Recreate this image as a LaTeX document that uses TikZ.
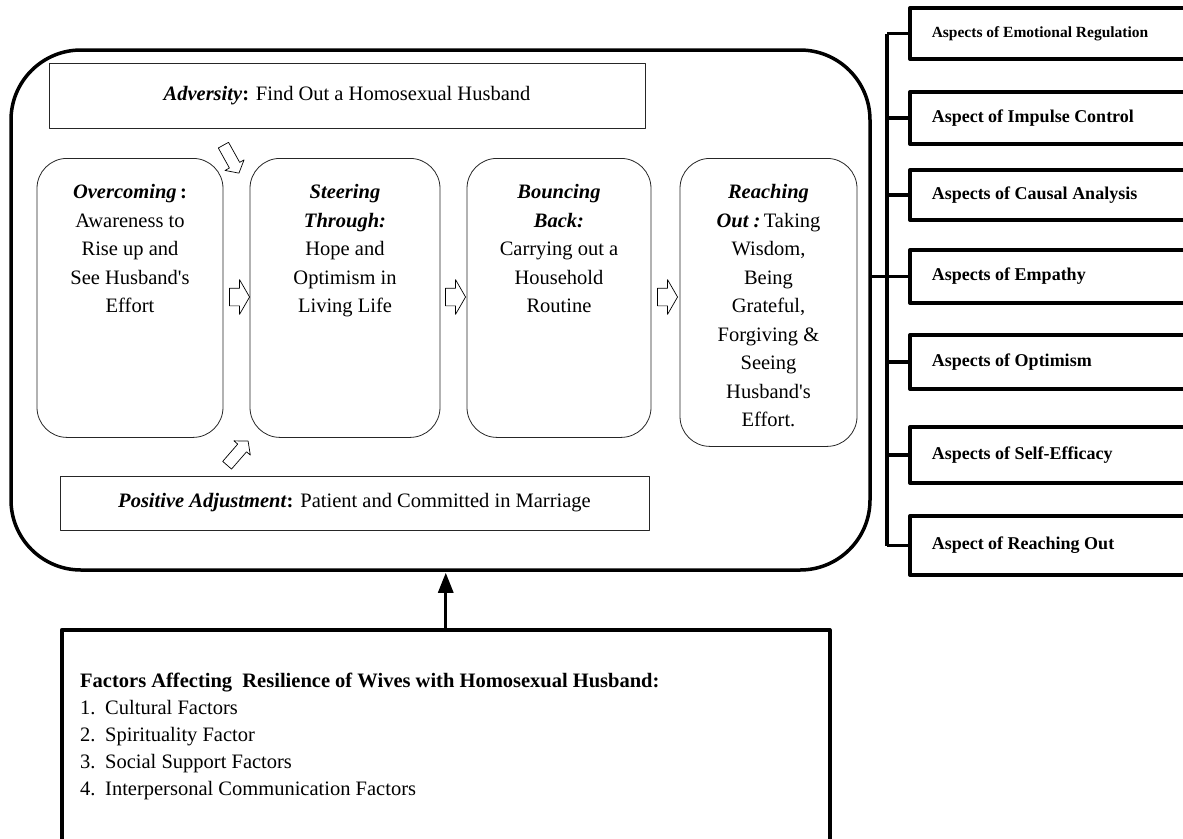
\documentclass[tikz,border=0pt]{standalone}
\usepackage{fontspec}
\setmainfont{Liberation Serif}
\usetikzlibrary{shapes.arrows,arrows.meta}
\newcommand{\stagetext}[2]{\parbox[t][#1][t]{172pt}{\centering\vspace*{26pt}#2}}
\newcommand{\bfit}[1]{\textbf{\textit{#1}}}
\newcommand{\apos}{\textquotesingle}
\begin{document}
\begin{tikzpicture}[x=1pt, y=-1pt, line join = round, font=\fontsize{20.5}{28.5}\selectfont]
	\tikzset{stagebox/.style={draw=black!85, line width=0.8pt, rounded corners=30pt, inner sep=0pt, anchor=north},
		plainbox/.style={draw=black!85, line width=0.8pt, inner sep=0pt},
		aspectbox/.style={draw, line width=3.5pt, anchor=west, minimum width=290pt, text width=246pt, inner xsep=22pt, align=flush left},
		hollow/.style={single arrow, draw, line width=0.7pt, inner xsep=0pt, inner ysep=8.5pt, minimum height=20pt, single arrow head extend=8.5pt, single arrow tip angle=120},
		skew/.style={hollow, minimum height=32pt, inner ysep=5.5pt, single arrow head extend=5pt, single arrow tip angle=100},
		thickline/.style={line width=3.5pt}}
	\useasboundingbox (0,0) rectangle (1183,838);
	\path (887,0) coordinate (bus);
	\node[draw, thickline, rounded corners=70pt, minimum width=859pt, minimum height=520pt] (frame) at (440.5,310) {};
	\node[plainbox, minimum width=596pt, minimum height=65pt] (adv) at (347,95.5) {\bfit{Adversity}\textbf{:} Find Out a Homosexual Husband};
	\node[plainbox, minimum width=589pt, minimum height=54pt] (pos) at (354.5,503) {\bfit{Positive Adjustment}\textbf{:} Patient and Committed in Marriage};
	\node[stagebox, minimum width=186pt] (over) at (130,158) {\stagetext{279pt}{\bfit{Overcoming}\,\textbf{:}\\ Awareness to\\ Rise up and\\ See Husband\apos s\\ Effort}};
	\node[stagebox, minimum width=190pt] (steer) at (345,158) {\stagetext{279pt}{\bfit{Steering}\\ \bfit{Through:}\\ Hope and\\ Optimism in\\ Living Life}};
	\node[stagebox, minimum width=184pt] (bounce) at (559,158) {\stagetext{279pt}{\bfit{Bouncing}\\ \bfit{Back:}\\ Carrying out a\\ Household\\ Routine}};
	\node[stagebox, minimum width=177pt] (reach) at (768.5,158) {\stagetext{288pt}{\bfit{Reaching}\\ \bfit{Out :}\,Taking\\ Wisdom,\\ Being\\ Grateful,\\ Forgiving \&\\ Seeing\\ Husband\apos s\\ Effort.}};
	\node[hollow] (ha1) at (237,297) {};
	\node[hollow] (ha2) at (453,297) {};
	\node[hollow] (ha3) at (665,297) {};
	\node[skew, rotate=-61] (da1) at (230,157) {};
	\node[skew, rotate=49] (da2) at (236,455) {};
	\foreach \i/\y/\h/\s/\txt in {1/33.5/51/15.5/Aspects of Emotional Regulation, 2/118/52/18/Aspect of Impulse Control, 3/195/50/18/Aspects of Causal Analysis, 4/276.5/53/18/Aspects of Empathy, 5/362/54/18/Aspects of Optimism, 6/455/56/18/Aspects of Self-Efficacy, 7/545.5/59/18/Aspect of Reaching Out}
		\node[aspectbox, minimum height=\h pt, font=\fontsize{\s}{22}\selectfont\bfseries] (asp\i) at (908,\y) {\txt};
	\draw[thickline] (asp1.west -| bus) -- (asp7.west -| bus);
	\foreach \i in {1,...,7}
		\draw[thickline] (asp\i.west) -- (asp\i.west -| bus);
	\draw[thickline] (frame.east |- asp4.west) -- (asp4.west);
	\node[draw, thickline, minimum width=768pt, minimum height=240pt, anchor=north west, inner sep=0pt] (factors) at (60,628) {};
	\node[anchor=north west, inner sep=0pt, align=left, font=\fontsize{20.5}{27}\selectfont] (factlist) at (80,673) {\textbf{Factors Affecting\ \ Resilience of Wives with Homosexual Husband:}\\ \makebox[25pt][l]{1.}Cultural Factors\\ \makebox[25pt][l]{2.}Spirituality Factor\\ \makebox[25pt][l]{3.}Social Support Factors\\ \makebox[25pt][l]{4.}Interpersonal Communication Factors};
	\draw[line width=3pt, -{Triangle[length=20pt,width=15pt]}, shorten >=1pt] (factors.north) -- (factors.north |- frame.south);
\end{tikzpicture}
\end{document}
